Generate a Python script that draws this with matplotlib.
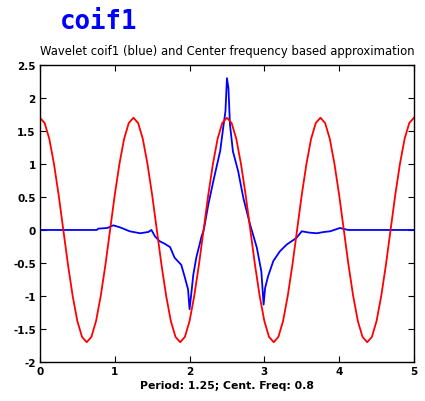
import numpy as np
import matplotlib.pyplot as plt

# coif1 wavelet (blue)
psi_x = [0.0, 0.76, 0.78, 0.90, 0.98, 1.07, 1.20, 1.34, 1.45, 1.49, 1.54, 1.60,
         1.67, 1.74, 1.80, 1.89, 1.94, 1.98, 2.00, 2.02, 2.05, 2.09, 2.16, 2.19,
         2.25, 2.32, 2.38, 2.41, 2.45, 2.48, 2.49, 2.50, 2.52, 2.54, 2.58, 2.65,
         2.72, 2.81, 2.90, 2.96, 2.99, 3.01, 3.05, 3.12, 3.21, 3.30, 3.43, 3.50,
         3.60, 3.70, 3.80, 3.88, 4.01, 4.12, 5.0]
psi_y = [0.0, 0.0, 0.02, 0.03, 0.07, 0.04, -0.02, -0.05, -0.03, 0.0, -0.10, -0.17,
         -0.21, -0.26, -0.42, -0.53, -0.73, -0.90, -1.20, -1.00, -0.68, -0.42, -0.10, 0.0,
         0.38, 0.75, 1.05, 1.20, 1.55, 1.80, 2.05, 2.30, 2.15, 1.60, 1.19, 0.89,
         0.48, 0.08, -0.27, -0.63, -1.13, -0.88, -0.70, -0.47, -0.32, -0.22, -0.12, -0.02,
         -0.04, -0.05, -0.03, -0.02, 0.03, 0.0, 0.0]

# centre frequency approximation (red), sampled every 0.0625
cos_x = np.linspace(0, 5, 81)
cos_y = [1.70, 1.62, 1.38, 1.00, 0.53, 0.00, -0.53, -1.00, -1.38, -1.62,
         -1.70, -1.62, -1.38, -1.00, -0.53, 0.00, 0.53, 1.00, 1.38, 1.62,
         1.70, 1.62, 1.38, 1.00, 0.53, 0.00, -0.53, -1.00, -1.38, -1.62,
         -1.70, -1.62, -1.38, -1.00, -0.53, 0.00, 0.53, 1.00, 1.38, 1.62,
         1.70, 1.62, 1.38, 1.00, 0.53, 0.00, -0.53, -1.00, -1.38, -1.62,
         -1.70, -1.62, -1.38, -1.00, -0.53, 0.00, 0.53, 1.00, 1.38, 1.62,
         1.70, 1.62, 1.38, 1.00, 0.53, 0.00, -0.53, -1.00, -1.38, -1.62,
         -1.70, -1.62, -1.38, -1.00, -0.53, 0.00, 0.53, 1.00, 1.38, 1.62,
         1.70]

xticks = [0, 1, 2, 3, 4, 5]
yticks = [-2, -1.5, -1, -0.5, 0, 0.5, 1, 1.5, 2, 2.5]
ytick_labels = ['-2', '-1.5', '-1', '-0.5', '0', '0.5', '1', '1.5', '2', '2.5']

fig = plt.figure(figsize=(4.25, 4.02), dpi=100)
ax = fig.add_axes([0.094, 0.097, 0.88, 0.739])

ax.plot(psi_x, psi_y, color='blue', lw=1.3)
ax.plot(cos_x, cos_y, color='red', lw=1.3)

ax.set_xlim(0, 5)
ax.set_ylim(-2, 2.5)
ax.set_xticks(xticks)
ax.set_yticks(yticks)
ax.set_yticklabels(ytick_labels)
ax.tick_params(direction='in', top=True, right=True, length=4, labelsize=7.5, width=0.8, pad=3)
for lab in ax.get_xticklabels() + ax.get_yticklabels():
    lab.set_fontweight('bold')
for s in ax.spines.values():
    s.set_linewidth(1.0)

ax.set_title('Wavelet coif1 (blue) and Center frequency based approximation',
             fontsize=8.4, pad=8)
ax.set_xlabel('Period: 1.25; Cent. Freq: 0.8', fontsize=7.8, fontweight='bold', labelpad=3)

fig.text(0.232, 0.945, 'coif1', color='blue', fontsize=18.5, fontweight='bold',
         family='DejaVu Sans Mono', ha='center', va='center')

fig.savefig('out.png', dpi=100)
